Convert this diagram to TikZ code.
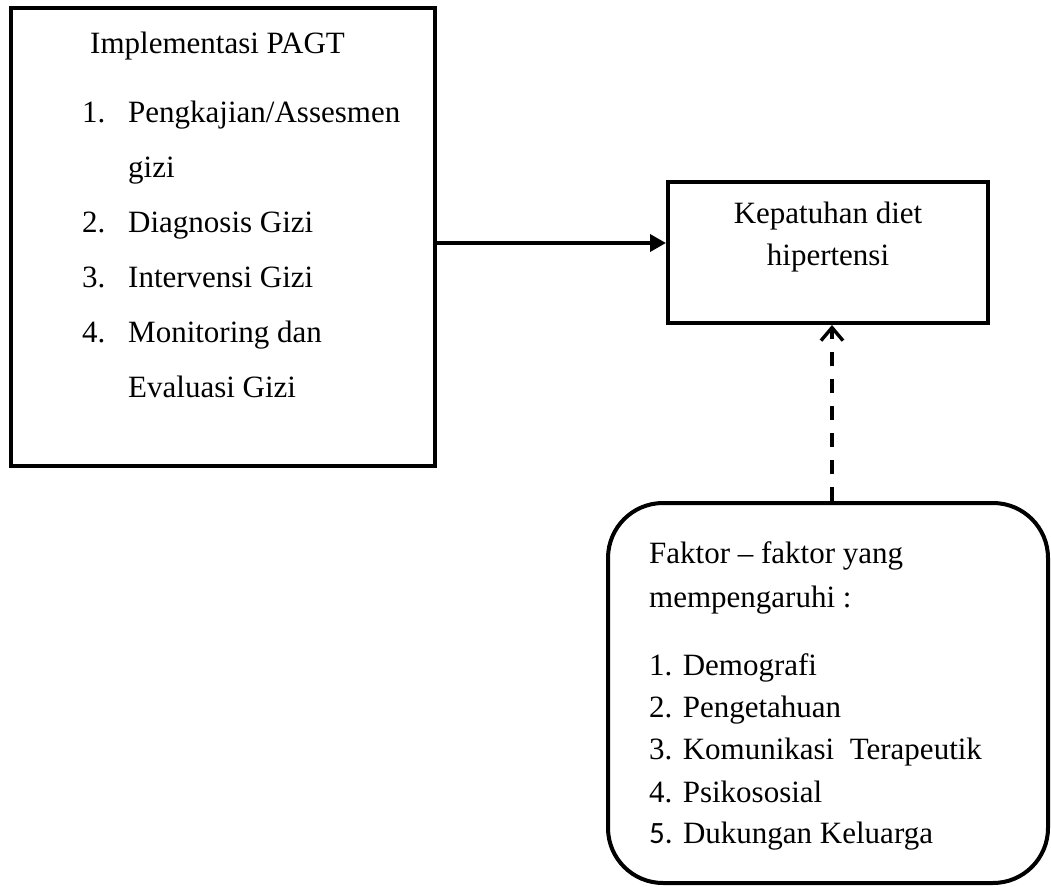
\documentclass[tikz,border=0pt]{standalone}
\usepackage{fontspec}
\setmainfont{Liberation Serif}
\newfontfamily\numfont{Carlito}
\usetikzlibrary{arrows.meta}
\begin{document}
\begin{tikzpicture}[x=1pt,y=-1pt,
  every node/.style={font=\fontsize{31pt}{37pt}\selectfont},
  boxnode/.style={draw=black, line width=4pt, inner sep=0pt},
  txt/.style={anchor=base west, inner sep=0pt},
  ctxt/.style={anchor=base, inner sep=0pt},
  solidarrow/.style={line width=3.6pt, -{Triangle[length=16pt,width=17pt]}},
  dasharrow/.style={line width=3.4pt, dash pattern=on 14pt off 13pt, -{Straight Barb[length=13pt,width=22pt,line width=3.4pt]}}
]
\useasboundingbox (0,0) rectangle (1051,886);

% boxes
\node[boxnode, minimum width=424pt, minimum height=458pt] (pagt) at (223,237) {};
\node[boxnode, minimum width=320pt, minimum height=141pt] (kep) at (828,252.5) {};
\node[boxnode, rounded corners=55pt, minimum width=440pt, minimum height=380pt] (fak) at (828,693) {};

% left box text
\node[txt] (t0) at (90,53) {Implementasi PAGT};
\node[txt] (n1) at (82,122) {1.};
\node[txt] (l1) at (128,122) {Pengkajian/Assesmen};
\node[txt] (l1b) at (128,177) {gizi};
\node[txt] (n2) at (82,232) {2.};
\node[txt] (l2) at (128,232) {Diagnosis Gizi};
\node[txt] (n3) at (82,287) {3.};
\node[txt] (l3) at (128,287) {Intervensi Gizi};
\node[txt] (n4) at (82,342) {4.};
\node[txt] (l4) at (128,342) {Monitoring dan};
\node[txt] (l4b) at (128,397) {Evaluasi Gizi};

% right box text
\node[ctxt] (k1) at (828,223) {Kepatuhan diet};
\node[ctxt] (k2) at (828,265) {hipertensi};

% rounded box text
\node[txt] (f1) at (649,563) {Faktor – faktor yang};
\node[txt] (f2) at (649,607) {mempengaruhi :};
\node[txt] (f3) at (649,675) {1. Demografi};
\node[txt] (f4) at (649,717) {2. Pengetahuan};
\node[txt] (f5) at (649,759) {3. Komunikasi~ Terapeutik};
\node[txt] (f6) at (649,802) {4. Psikososial};
\node[txt] (f7) at (649,843) {{\numfont 5.} Dukungan Keluarga};

% connectors
\coordinate (ay) at (0,243);
\draw[solidarrow] (pagt.east |- ay) -- (kep.west |- ay);
\draw[dasharrow] ([xshift=4pt]fak.north) -- ([xshift=4pt]kep.south);
\end{tikzpicture}
\end{document}
